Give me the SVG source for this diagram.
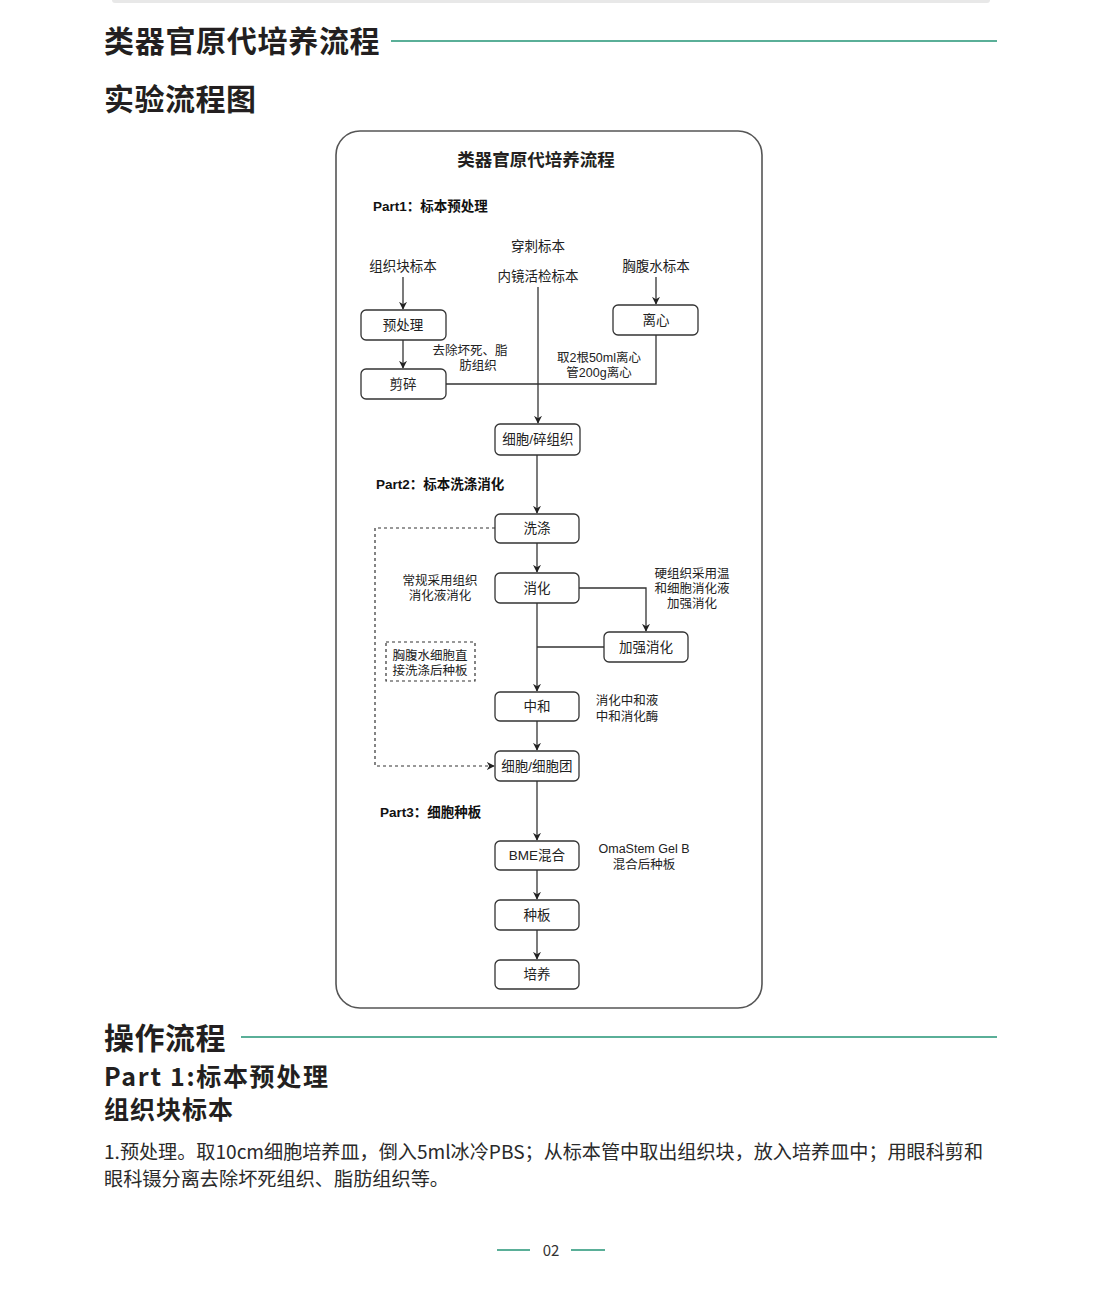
<svg xmlns="http://www.w3.org/2000/svg" width="1102" height="1316" viewBox="0 0 1102 1316">
<defs>
<style>
.h{font-family:"Noto Sans CJK SC","Noto Sans",sans-serif;font-weight:700;fill:#231f20}
.t{font-family:"Liberation Sans","Noto Sans CJK SC",sans-serif;font-size:13.5px;fill:#222}
.l{font-family:"Liberation Sans","Noto Sans CJK SC",sans-serif;font-size:12.5px;fill:#222}
.b{font-family:"Liberation Sans","Noto Sans CJK SC",sans-serif;font-weight:700;font-size:13.5px;fill:#111}
.box{fill:#fff;stroke:#333;stroke-width:1.3}
.c{fill:none;stroke:#333;stroke-width:1.3}
.d{fill:none;stroke:#333;stroke-width:1.2;stroke-dasharray:3 3}
.teal{stroke:#5aaf98;stroke-width:2}
.body{font-family:"Noto Sans CJK SC","Noto Sans",sans-serif;font-size:19px;fill:#2a2a2a}
</style>
<marker id="a" viewBox="0 0 10 10" refX="9" refY="5" markerWidth="8" markerHeight="8" markerUnits="userSpaceOnUse" orient="auto">
<path d="M0,0 L10,5 L0,10 L3,5 Z" fill="#222"/>
</marker>
</defs>
<rect width="1102" height="1316" fill="#fff"/>
<rect x="112" y="-3" width="878" height="6" rx="3" fill="#e8e8e8"/>

<g id="header">
<text class="h" x="104" y="52" font-size="30" letter-spacing="0.7">类器官原代培养流程</text>
<line class="teal" x1="391" y1="41" x2="997" y2="41"/>
<text class="h" x="104" y="110" font-size="30" letter-spacing="0.5">实验流程图</text>
</g>

<g id="frame">
<rect x="336" y="131" width="426" height="877" rx="24" fill="#fff" stroke="#555" stroke-width="1.6"/>
<text class="h" x="536" y="166" font-size="17.5" text-anchor="middle">类器官原代培养流程</text>
<text class="b" x="373" y="211">Part1：标本预处理</text>
<text class="b" x="376" y="489">Part2：标本洗涤消化</text>
<text class="b" x="380" y="817">Part3：细胞种板</text>
</g>

<g id="connectors">
<line class="c" x1="403" y1="277" x2="403" y2="309" marker-end="url(#a)"/>
<line class="c" x1="403" y1="340" x2="403" y2="368" marker-end="url(#a)"/>
<line class="c" x1="656" y1="277" x2="656" y2="304" marker-end="url(#a)"/>
<polyline class="c" points="656,335 656,384 446,384"/>
<line class="c" x1="538" y1="287" x2="538" y2="423" marker-end="url(#a)"/>
<line class="c" x1="537" y1="455" x2="537" y2="513" marker-end="url(#a)"/>
<line class="c" x1="537" y1="543" x2="537" y2="572" marker-end="url(#a)"/>
<line class="c" x1="537" y1="603" x2="537" y2="691" marker-end="url(#a)"/>
<polyline class="c" points="579,588 646,588 646,631" marker-end="url(#a)"/>
<line class="c" x1="604" y1="647" x2="537" y2="647"/>
<line class="c" x1="537" y1="721" x2="537" y2="750" marker-end="url(#a)"/>
<polyline class="d" points="495,528 375,528 375,766 494,766" marker-end="url(#a)"/>
<line class="c" x1="537" y1="781" x2="537" y2="840" marker-end="url(#a)"/>
<line class="c" x1="537" y1="870" x2="537" y2="899" marker-end="url(#a)"/>
<line class="c" x1="537" y1="930" x2="537" y2="959" marker-end="url(#a)"/>
</g>

<g id="src-labels">
<text class="t" x="538" y="251" text-anchor="middle">穿刺标本</text>
<text class="t" x="538" y="281" text-anchor="middle">内镜活检标本</text>
<text class="t" x="403" y="271" text-anchor="middle">组织块标本</text>
<text class="t" x="656" y="271" text-anchor="middle">胸腹水标本</text>
</g>

<g id="n-yuchuli"><rect class="box" x="361" y="310" width="85" height="30" rx="5"/><text class="t" x="403" y="330" text-anchor="middle">预处理</text></g>
<g id="n-jiansui"><rect class="box" x="361" y="369" width="85" height="30" rx="5"/><text class="t" x="403" y="389" text-anchor="middle">剪碎</text></g>
<g id="n-lixin"><rect class="box" x="613" y="305" width="85" height="30" rx="5"/><text class="t" x="656" y="325" text-anchor="middle">离心</text></g>
<g id="n-xibao"><rect class="box" x="495" y="424" width="85" height="31" rx="5"/><text class="t" x="538" y="444" text-anchor="middle">细胞/碎组织</text></g>
<g id="n-xidi"><rect class="box" x="495" y="514" width="84" height="29" rx="5"/><text class="t" x="537" y="533" text-anchor="middle">洗涤</text></g>
<g id="n-xiaohua"><rect class="box" x="495" y="573" width="84" height="30" rx="5"/><text class="t" x="537" y="593" text-anchor="middle">消化</text></g>
<g id="n-jiaqiang"><rect class="box" x="604" y="632" width="84" height="30" rx="5"/><text class="t" x="646" y="652" text-anchor="middle">加强消化</text></g>
<g id="n-zhonghe"><rect class="box" x="495" y="692" width="84" height="29" rx="5"/><text class="t" x="537" y="711" text-anchor="middle">中和</text></g>
<g id="n-xibaotuan"><rect class="box" x="495" y="751" width="84" height="30" rx="5"/><text class="t" x="537" y="771" text-anchor="middle">细胞/细胞团</text></g>
<g id="n-bme"><rect class="box" x="495" y="841" width="84" height="29" rx="5"/><text class="t" x="537" y="860" text-anchor="middle">BME混合</text></g>
<g id="n-zhongban"><rect class="box" x="495" y="900" width="84" height="30" rx="5"/><text class="t" x="537" y="920" text-anchor="middle">种板</text></g>
<g id="n-peiyang"><rect class="box" x="495" y="960" width="84" height="29" rx="5"/><text class="t" x="537" y="979" text-anchor="middle">培养</text></g>

<g id="notes">
<text class="l" x="470" y="355" text-anchor="middle">去除坏死、脂</text>
<text class="l" x="478" y="370" text-anchor="middle">肪组织</text>
<text class="l" x="599" y="362" text-anchor="middle">取2根50ml离心</text>
<text class="l" x="599" y="377" text-anchor="middle">管200g离心</text>
<text class="l" x="440" y="585" text-anchor="middle">常规采用组织</text>
<text class="l" x="440" y="600" text-anchor="middle">消化液消化</text>
<text class="l" x="692" y="578" text-anchor="middle">硬组织采用温</text>
<text class="l" x="692" y="593" text-anchor="middle">和细胞消化液</text>
<text class="l" x="692" y="608" text-anchor="middle">加强消化</text>
<text class="l" x="627" y="705" text-anchor="middle">消化中和液</text>
<text class="l" x="627" y="721" text-anchor="middle">中和消化酶</text>
<text class="l" x="644" y="853" text-anchor="middle">OmaStem Gel B</text>
<text class="l" x="644" y="869" text-anchor="middle">混合后种板</text>
</g>
<g id="n-note-box">
<rect x="386" y="642" width="89" height="39" fill="none" stroke="#333" stroke-width="1.2" stroke-dasharray="3 3"/>
<text class="l" x="430" y="660" text-anchor="middle">胸腹水细胞直</text>
<text class="l" x="430" y="675" text-anchor="middle">接洗涤后种板</text>
</g>

<g id="section2">
<text class="h" x="104" y="1049" font-size="30" letter-spacing="0.5">操作流程</text>
<line class="teal" x1="241" y1="1037" x2="997" y2="1037"/>
<text class="h" x="104" y="1086" font-size="25" textLength="224" lengthAdjust="spacing">Part 1:标本预处理</text>
<text class="h" x="104" y="1119" font-size="25" letter-spacing="1">组织块标本</text>
<text class="body" x="104" y="1159" textLength="879" lengthAdjust="spacingAndGlyphs">1.预处理。取10cm细胞培养皿，倒入5ml冰冷PBS；从标本管中取出组织块，放入培养皿中；用眼科剪和</text>
<text class="body" x="104" y="1186" textLength="345" lengthAdjust="spacingAndGlyphs">眼科镊分离去除坏死组织、脂肪组织等。</text>
</g>

<g id="footer">
<line class="teal" x1="497" y1="1250" x2="530" y2="1250" stroke-width="1.5"/>
<line class="teal" x1="571" y1="1250" x2="605" y2="1250" stroke-width="1.5"/>
<text x="551" y="1256" font-family="Noto Sans CJK SC,Noto Sans,sans-serif" font-size="15" fill="#333" text-anchor="middle">02</text>
</g>
</svg>
